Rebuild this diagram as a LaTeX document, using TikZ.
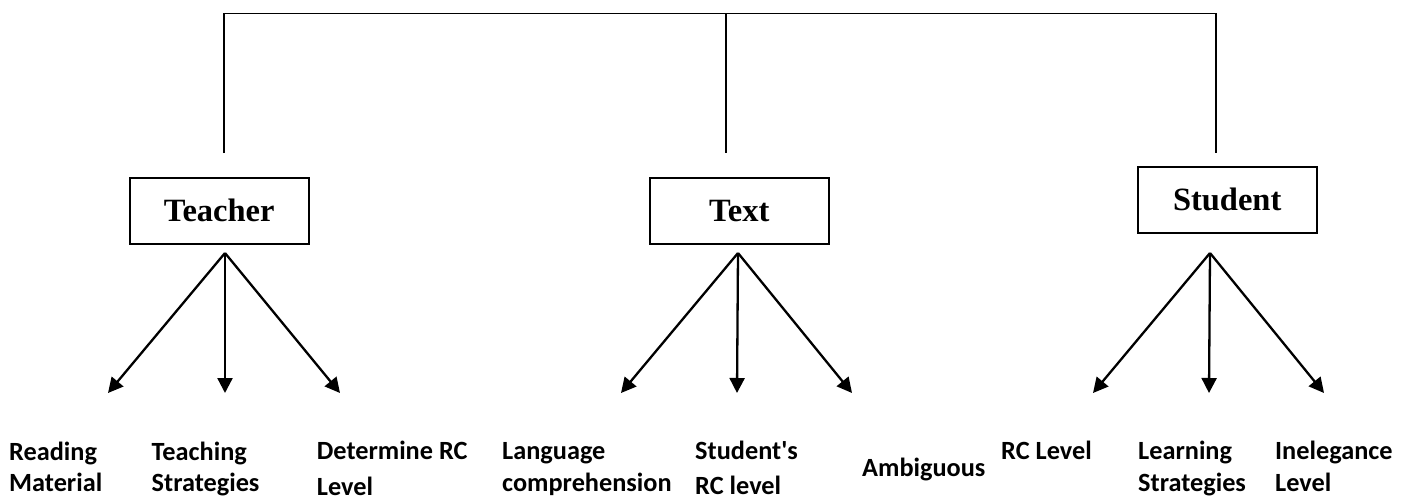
\documentclass[tikz,border=0pt]{standalone}
\usepackage{fontspec}
\setmainfont{Liberation Serif}
\newfontfamily\labelfont{Carlito}
\usetikzlibrary{arrows.meta}

\begin{document}
\begin{tikzpicture}[x=1pt,y=-1pt,
  rolebox/.style={draw,line width=1.6pt,minimum width=179pt,minimum height=66pt,inner sep=0pt,
    font=\fontsize{32.5}{36}\selectfont\bfseries},
  trunk/.style={line width=1.6pt},
  fan/.style={line width=2.3pt,-{Triangle[length=15pt,width=15pt]}},
  leaf/.style={anchor=base west,inner sep=0pt,font=\labelfont\fontsize{26.3}{30}\selectfont\bfseries}]
\useasboundingbox (0,0) rectangle (1410,498);

% top bracket joining the three branches
\coordinate (tl) at (224,13.5);
\coordinate (tm) at (726,13.5);
\coordinate (tr) at (1216,13.5);
\coordinate (bl) at (224,153);
\coordinate (bm) at (726,153);
\coordinate (br) at (1216,153);
\draw[trunk] (bl) -- (tl) -- (tr) -- (br);
\draw[trunk] (tm) -- (bm);

% the three main boxes
\node[rolebox] (teacher) at (219.2,210.7) {Teacher};
\node[rolebox] (text) at (739.2,210.7) {Text};
\node[rolebox] (student) at (1227.2,199.8) {Student};

% fan origins and arrow tips
\coordinate (ft) at (225,253);
\coordinate (fx) at (738,253);
\coordinate (fs) at (1210,253);
\coordinate (t1) at (108,393);
\coordinate (t2) at (225,393);
\coordinate (t3) at (340,393);
\coordinate (x1) at (621,393);
\coordinate (x2) at (737,393);
\coordinate (x3) at (852,393);
\coordinate (s1) at (1093,393);
\coordinate (s2) at (1209,393);
\coordinate (s3) at (1324,393);

\draw[fan] (ft) -- (t1);
\draw[fan] (ft) -- (t2);
\draw[fan] (ft) -- (t3);
\draw[fan] (fx) -- (x1);
\draw[fan] (fx) -- (x2);
\draw[fan] (fx) -- (x3);
\draw[fan] (fs) -- (s1);
\draw[fan] (fs) -- (s2);
\draw[fan] (fs) -- (s3);

% labels under the arrows
\node[leaf] (rm1) at (9,460) {Reading};
\node[leaf] (rm2) at (9,491.5) {Material};
\node[leaf] (ts1) at (151.5,460) {Teaching};
\node[leaf] (ts2) at (151.5,491) {Strategies};
\node[leaf] (dr1) at (316.7,459.5) {Determine RC};
\node[leaf] (dr2) at (316.7,495) {Level};
\node[leaf] (lc1) at (502,459.5) {Language};
\node[leaf] (lc2) at (502,491) {comprehension};
\node[leaf] (sr1) at (695,459) {Student's};
\node[leaf] (sr2) at (695,494.5) {RC level};
\node[leaf] (amb) at (862,476) {Ambiguous};
\node[leaf] (rcl) at (1001,459) {RC Level};
\node[leaf] (ls1) at (1138,459) {Learning};
\node[leaf] (ls2) at (1138,491) {Strategies};
\node[leaf] (il1) at (1275,459) {Inelegance};
\node[leaf] (il2) at (1275,491) {Level};
\end{tikzpicture}
\end{document}
